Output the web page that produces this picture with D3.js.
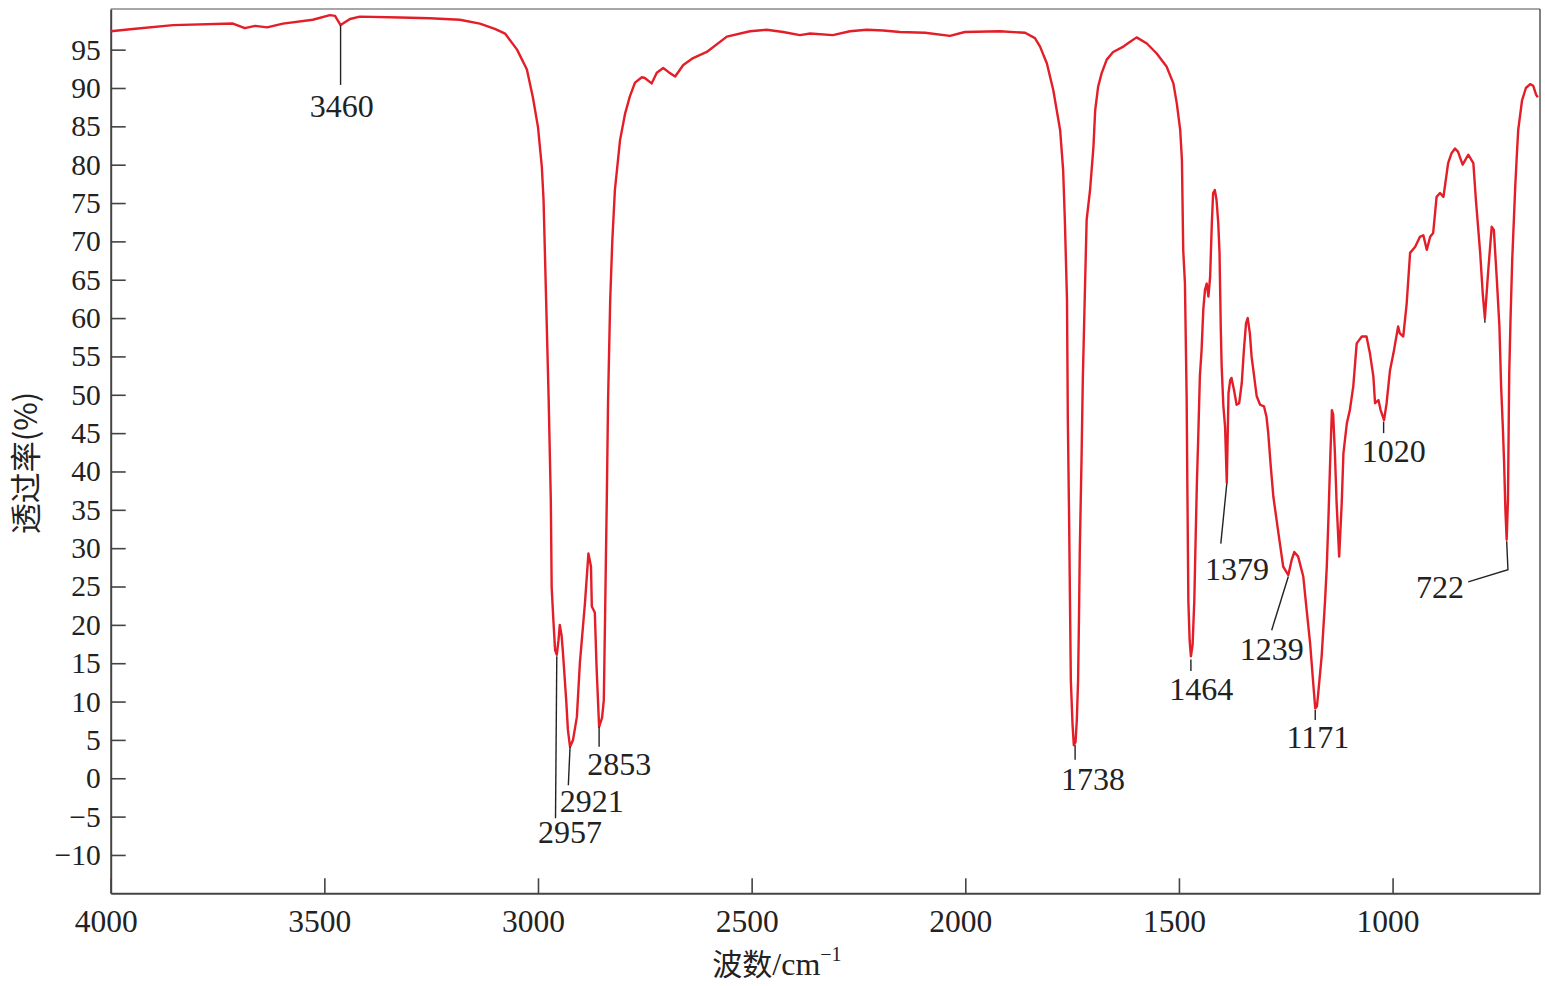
<!DOCTYPE html>
<html>
<head>
<meta charset="utf-8">
<script src="https://cdn.jsdelivr.net/npm/d3@7"></script>
<style>
  html, body { margin: 0; padding: 0; background: #fff; }
  svg { display: block; }
</style>
</head>
<body>
<svg id="chart" width="1545" height="986"></svg>
<script>
// ---------------- DATA ----------------
const wavenumber = [
  4000,3948,3854,3714,3686,3662,3634,3597,3527,3487,3475,3462,3440,3417,3323,3253,3183,3136,3101,3077,
  3049,3026,3012,3000,2991,2987,2981,2975,2970,2968,2964,2960,2956,2952,2949,2945,2942,2934,2930,2925,
  2918,2909,2902,2890,2882,2876,2874,2867,2863,2857,2850,2846,2843,2841,2839,2836,2831,2826,2820,2808,
  2796,2785,2773,2757,2750,2734,2722,2707,2695,2679,2660,2637,2605,2558,2504,2465,2426,2387,2363,2310,
  2270,2231,2192,2153,2094,2036,2001,1919,1860,1837,1825,1809,1794,1786,1778,1771,1767,1762,1760,1757,
  1755,1753,1749,1746,1742,1739,1736,1734,1732,1728,1725,1720,1716,1708,1700,1696,1689,1681,1669,1654,
  1630,1615,1599,1575,1552,1529,1513,1505,1497,1493,1490,1486,1482,1480,1478,1475,1472,1468,1464,1461,
  1458,1455,1451,1447,1443,1439,1435,1431,1427,1423,1420,1416,1412,1408,1405,1402,1400,1396,1392,1388,
  1384,1380,1377,1371,1365,1359,1353,1348,1343,1339,1334,1330,1324,1318,1310,1301,1295,1291,1285,1279,
  1267,1256,1244,1236,1230,1221,1209,1201,1193,1185,1181,1177,1174,1166,1158,1154,1150,1146,1142,1139,
  1135,1131,1125,1119,1115,1107,1100,1092,1084,1072,1061,1053,1045,1041,1033,1028,1020,1014,1006,998,
  987,983,975,967,959,947,936,928,920,912,905,897,889,881,870,862,854,847,836,823,
  811,805,795,789,784,776,768,763,756,750,746,742,739,736,733,730,727,724,720,713,
  709,706,697,688,678,671,664,660
];
const transmittance = [
  97.4,97.7,98.2,98.4,97.8,98.1,97.9,98.4,98.9,99.5,99.4,98.2,99.0,99.3,99.2,99.1,98.9,98.4,97.7,97.1,
  95.0,92.4,88.8,84.9,79.7,75.4,62.4,49.3,36.3,24.9,20.6,16.7,16.1,18.0,20.0,18.7,16.7,10.2,6.3,4.1,
  5.0,8.0,15.0,22.9,29.3,27.6,22.4,21.6,14.6,6.7,7.9,10.2,21.1,28.9,36.3,49.3,62.4,70.2,76.7,83.2,
  86.7,88.9,90.7,91.4,91.3,90.6,92.0,92.6,92.1,91.5,93.0,93.9,94.7,96.7,97.4,97.6,97.3,96.9,97.1,96.9,
  97.4,97.6,97.5,97.3,97.2,96.8,97.3,97.4,97.2,96.5,95.4,93.2,89.7,87.1,84.5,79.3,72.8,62.4,46.7,33.7,
  23.2,12.8,7.0,4.3,4.7,7.6,12.8,20.6,29.8,41.5,51.9,63.7,72.8,76.7,82.4,87.1,90.2,91.9,93.7,94.7,
  95.4,96.0,96.6,95.8,94.5,92.8,90.6,88.0,84.5,80.6,68.9,64.6,49.8,36.3,23.2,18.0,15.9,17.4,23.2,31.1,
  38.5,44.1,52.4,55.8,61.1,63.7,64.5,62.8,65.4,72.4,76.3,76.7,75.4,72.4,68.5,58.5,53.7,48.5,45.8,38.5,
  50.2,51.9,52.2,50.6,48.7,48.9,51.5,55.8,59.3,60.0,58.0,55.0,52.4,49.8,48.7,48.5,47.1,45.0,40.6,36.7,
  31.9,27.6,26.5,28.5,29.5,28.9,26.3,21.9,17.6,11.9,9.1,9.4,11.1,15.9,23.2,27.6,34.1,41.5,48.0,47.4,
  42.4,35.9,28.9,35.9,42.4,46.3,48.0,51.1,56.7,57.6,57.6,55.4,52.4,48.9,49.3,48.0,46.7,48.9,53.2,55.4,
  58.9,58.0,57.6,61.9,68.5,69.3,70.6,70.8,68.9,70.6,71.1,75.8,76.3,75.8,80.2,81.5,82.1,81.7,80.0,81.3,
  80.2,75.4,68.5,63.2,60.0,66.3,71.9,71.5,65.0,58.9,51.1,45.8,41.1,35.0,31.1,36.3,52.8,59.8,67.6,77.1,
  81.5,84.5,88.4,90.0,90.5,90.3,89.1,88.8
];

const xTickValues = [4000, 3500, 3000, 2500, 2000, 1500, 1000];
const yTickValues = [-10, -5, 0, 5, 10, 15, 20, 25, 30, 35, 40, 45, 50, 55, 60, 65, 70, 75, 80, 85, 90, 95];

const xTitleCjk = "波数";
const xTitleUnit = "/cm";
const xTitleSup = "−1";
const yTitle = "透过率(%)";

// peak annotations: label, leader polyline (data units), label anchor (data units)
const peakLabels = ["3460", "2957", "2921", "2853", "1738", "1464", "1379", "1239", "1171", "1020", "722"];
const peakLeaders = [
  [[3462, 98.2], [3462, 90.4]],
  [[2956, 15.9], [2959, -5.2]],
  [[2925, 4.1], [2929, -0.9]],
  [[2857, 6.7], [2857, 4.1]],
  [[1743, 4.3], [1743, 2.4]],
  [[1472, 15.5], [1472, 14.0]],
  [[1388, 38.4], [1402, 30.6]],
  [[1244, 26.3], [1283, 19.3]],
  [[1181, 8.9], [1181, 7.6]],
  [[1021, 46.5], [1021, 45.0]],
  [[733, 30.9], [730, 27.2], [823, 25.6]]
];
const peakLabelPos = [
  [3459, 86.2], [2925, -8.4], [2874, -4.4], [2810, 0.4], [1701, -1.5], [1448, 10.2],
  [1364, 25.9], [1283, 15.4], [1175, 4.0], [997, 41.3], [889, 23.5]
];
const extraMarks = [[[784, 59.9], [784, 59.4]]];

// ---------------- LAYOUT ----------------
const svg = d3.select("#chart");
const mLeft = 110.7, mRight = 1540, mTop = 9, mBottom = 893.3;

const x = d3.scaleLinear().domain([4000, 655]).range([mLeft, mRight]);
const y = d3.scaleLinear().domain([-15, 100.3]).range([mBottom, mTop]);

const serif = "'Liberation Serif', 'Times New Roman', serif";
const cjk = "'Noto Sans CJK SC', 'Noto Sans', sans-serif";

// frame top / right
svg.append("line").attr("x1", mLeft).attr("x2", mRight).attr("y1", mTop).attr("y2", mTop)
  .attr("stroke", "#8a8a8a").attr("stroke-width", 1.5);
svg.append("line").attr("x1", mRight).attr("x2", mRight).attr("y1", mTop).attr("y2", mBottom)
  .attr("stroke", "#555").attr("stroke-width", 1.5);

// axes
const xAxis = d3.axisBottom(x).tickValues(xTickValues).tickSizeInner(-15).tickSizeOuter(0)
  .tickPadding(16).tickFormat(d3.format("d"));
const gx = svg.append("g").attr("transform", `translate(0,${mBottom})`).call(xAxis);
gx.select(".domain").attr("stroke", "#444").attr("stroke-width", 2);
gx.selectAll(".tick line").attr("stroke", "#444").attr("stroke-width", 1.6);
gx.selectAll(".tick text").attr("font-family", serif).attr("font-size", 31.5).attr("fill", "#222")
  .attr("dx", -5).attr("dy", "0.71em");

const yAxis = d3.axisLeft(y).tickValues(yTickValues).tickSizeInner(-15).tickSizeOuter(0)
  .tickPadding(10);
const gy = svg.append("g").attr("transform", `translate(${mLeft},0)`).call(yAxis);
gy.select(".domain").attr("stroke", "#444").attr("stroke-width", 2);
gy.selectAll(".tick line").attr("stroke", "#444").attr("stroke-width", 1.6);
gy.selectAll(".tick text").attr("font-family", serif).attr("font-size", 29.5).attr("fill", "#222");

// spectrum
const pts = wavenumber.map((w, i) => [w, transmittance[i]]);
const line = d3.line().x(d => x(d[0])).y(d => y(d[1]));
svg.append("path").datum(pts).attr("d", line).attr("fill", "none")
  .attr("stroke", "#e31e28").attr("stroke-width", 2.4).attr("stroke-linejoin", "round");

// leaders
const leaderLine = d3.line().x(d => x(d[0])).y(d => y(d[1]));
svg.append("g").selectAll("path").data(peakLeaders.concat(extraMarks)).join("path")
  .attr("d", leaderLine).attr("fill", "none").attr("stroke", "#222").attr("stroke-width", 1.4);

// peak labels
svg.append("g").selectAll("text").data(peakLabels).join("text")
  .attr("x", (d, i) => x(peakLabelPos[i][0]))
  .attr("y", (d, i) => y(peakLabelPos[i][1]))
  .attr("text-anchor", "middle")
  .attr("font-family", serif).attr("font-size", 32).attr("fill", "#222")
  .text(d => d);

// axis titles
const xt = svg.append("text").attr("x", 777).attr("y", 975).attr("text-anchor", "middle")
  .attr("font-family", cjk).attr("font-size", 30).attr("fill", "#222");
xt.append("tspan").text(xTitleCjk).attr("font-family", cjk);
xt.append("tspan").text(xTitleUnit).attr("font-family", serif).attr("font-size", 32);
xt.append("tspan").text(xTitleSup).attr("font-family", serif).attr("font-size", 20).attr("dy", -14);

svg.append("text").attr("transform", "translate(37,463) rotate(-90)")
  .attr("text-anchor", "middle").attr("font-family", cjk).attr("font-size", 31).attr("fill", "#222")
  .text(yTitle);
</script>
</body>
</html>
